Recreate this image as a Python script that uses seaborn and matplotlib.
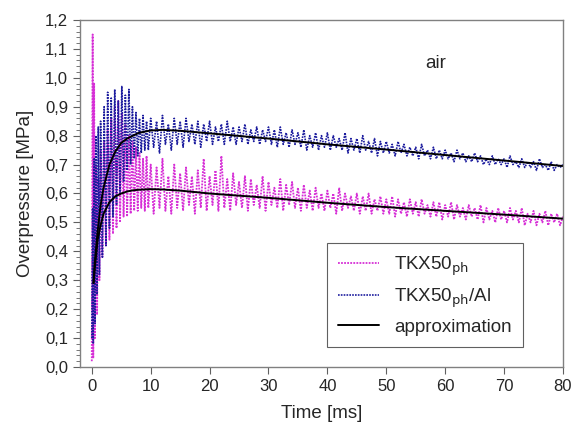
import numpy as np
import pandas as pd
import matplotlib
matplotlib.use("Agg")
import matplotlib.pyplot as plt
from matplotlib.ticker import FuncFormatter, MultipleLocator
import seaborn as sns

# early part of the records (0 - 9.6 ms)
t_early = [0.0, 0.15, 0.25, 0.4, 0.55, 0.7, 0.9, 1.1, 1.3, 1.5,
           1.8, 2.1, 2.4, 2.7, 3.0, 3.3, 3.6, 3.9, 4.2, 4.5,
           4.8, 5.1, 5.4, 5.7, 6.0, 6.3, 6.6, 6.9, 7.2, 7.5,
           7.8, 8.1, 8.4, 8.7, 9.0, 9.3, 9.6]
# later part sampled every 0.5 ms (10 - 80 ms)
t_late = list(np.arange(10.0, 80.01, 0.5))

ph_early = [0.02, 1.15, 0.03, 0.98, 0.10, 0.70, 0.18, 0.65, 0.30, 0.75,
            0.38, 0.78, 0.42, 0.82, 0.44, 0.86, 0.46, 0.90, 0.48, 0.92,
            0.50, 0.88, 0.52, 0.84, 0.52, 0.80, 0.53, 0.78, 0.54, 0.76,
            0.54, 0.74, 0.55, 0.72, 0.54, 0.73, 0.55]
ph_late = [0.70, 0.53, 0.69, 0.55, 0.72, 0.54, 0.66, 0.53, 0.70, 0.55,
           0.67, 0.54, 0.69, 0.56, 0.66, 0.53, 0.68, 0.55, 0.72, 0.54,
           0.66, 0.56, 0.68, 0.54, 0.73, 0.55, 0.65, 0.54, 0.67, 0.56,
           0.64, 0.55, 0.66, 0.54, 0.65, 0.56, 0.63, 0.55, 0.66, 0.54,
           0.64, 0.56, 0.62, 0.55, 0.65, 0.54, 0.63, 0.56, 0.64, 0.55,
           0.62, 0.54, 0.63, 0.55, 0.61, 0.54, 0.62, 0.55, 0.60, 0.54,
           0.61, 0.55, 0.60, 0.53, 0.62, 0.54, 0.60, 0.55, 0.59, 0.54,
           0.60, 0.53, 0.59, 0.54, 0.60, 0.53, 0.58, 0.54, 0.59, 0.53,
           0.58, 0.53, 0.59, 0.52, 0.58, 0.53, 0.57, 0.52, 0.58, 0.53,
           0.57, 0.52, 0.58, 0.53, 0.56, 0.52, 0.57, 0.52, 0.57, 0.51,
           0.56, 0.52, 0.57, 0.51, 0.56, 0.52, 0.55, 0.51, 0.56, 0.52,
           0.55, 0.51, 0.56, 0.50, 0.55, 0.51, 0.54, 0.50, 0.55, 0.51,
           0.54, 0.50, 0.55, 0.51, 0.54, 0.50, 0.55, 0.49, 0.53, 0.50,
           0.54, 0.49, 0.53, 0.50, 0.54, 0.49, 0.53, 0.50, 0.53, 0.49,
           0.52]

al_early = [0.10, 0.55, 0.08, 0.72, 0.15, 0.80, 0.25, 0.83, 0.32, 0.85,
            0.38, 0.90, 0.42, 0.95, 0.48, 0.93, 0.52, 0.96, 0.56, 0.92,
            0.60, 0.97, 0.64, 0.94, 0.68, 0.96, 0.70, 0.90, 0.72, 0.88,
            0.73, 0.86, 0.74, 0.87, 0.75, 0.85, 0.75]
al_late = [0.86, 0.76, 0.85, 0.74, 0.87, 0.77, 0.84, 0.75, 0.86, 0.77,
           0.85, 0.76, 0.86, 0.78, 0.84, 0.77, 0.85, 0.76, 0.84, 0.78,
           0.85, 0.77, 0.83, 0.78, 0.84, 0.77, 0.85, 0.78, 0.83, 0.77,
           0.83, 0.78, 0.84, 0.77, 0.82, 0.78, 0.83, 0.77, 0.82, 0.78,
           0.83, 0.77, 0.82, 0.76, 0.83, 0.77, 0.81, 0.76, 0.82, 0.77,
           0.81, 0.76, 0.82, 0.75, 0.80, 0.76, 0.81, 0.75, 0.80, 0.76,
           0.81, 0.75, 0.80, 0.76, 0.79, 0.75, 0.81, 0.74, 0.79, 0.75,
           0.79, 0.74, 0.80, 0.75, 0.78, 0.74, 0.79, 0.73, 0.78, 0.74,
           0.78, 0.74, 0.77, 0.73, 0.78, 0.74, 0.77, 0.73, 0.76, 0.73,
           0.76, 0.72, 0.77, 0.73, 0.75, 0.72, 0.76, 0.72, 0.75, 0.72,
           0.75, 0.72, 0.74, 0.71, 0.75, 0.72, 0.74, 0.71, 0.73, 0.71,
           0.74, 0.71, 0.73, 0.70, 0.72, 0.70, 0.73, 0.70, 0.72, 0.70,
           0.72, 0.69, 0.73, 0.70, 0.71, 0.69, 0.72, 0.69, 0.71, 0.69,
           0.71, 0.68, 0.72, 0.69, 0.70, 0.68, 0.71, 0.68, 0.70, 0.69,
           0.70]

# fitted approximation curves
t_fit = [0.3, 0.5, 1, 1.5, 2, 3, 4, 5, 6, 7, 8, 10, 12, 15, 20, 30, 40, 50, 60, 70, 80]
fit_al = [0.29, 0.36, 0.47, 0.56, 0.62, 0.70, 0.745, 0.775, 0.79, 0.80, 0.81,
          0.818, 0.82, 0.817, 0.808, 0.79, 0.77, 0.752, 0.733, 0.714, 0.695]
fit_ph = [0.29, 0.34, 0.44, 0.49, 0.53, 0.57, 0.59, 0.60, 0.607, 0.611, 0.613,
          0.615, 0.614, 0.61, 0.60, 0.585, 0.568, 0.553, 0.54, 0.527, 0.513]

t_all = t_early + t_late
ph = pd.DataFrame({'t': t_all, 'p': ph_early + ph_late})
al = pd.DataFrame({'t': t_all, 'p': al_early + al_late})

sns.set_style("ticks")
plt.rcParams['font.family'] = ['Liberation Sans', 'DejaVu Sans']

fig = plt.figure(figsize=(5.71, 4.34), dpi=100)
ax = fig.add_axes([80/571, 67/434, 483/571, 347/434])

sns.lineplot(data=ph, x='t', y='p', ax=ax, estimator=None, sort=False,
             color='#d62fd6', linestyle=(0, (1, 0.7)), linewidth=1.3,
             label='TKX50$_{\\mathrm{ph}}$')
sns.lineplot(data=al, x='t', y='p', ax=ax, estimator=None, sort=False,
             color='#1c1c9e', linestyle=(0, (1, 0.7)), linewidth=1.2,
             label='TKX50$_{\\mathrm{ph}}$/Al')
sns.lineplot(x=t_fit, y=fit_al, ax=ax, estimator=None, color='black', linewidth=1.4,
             label='approximation')
sns.lineplot(x=t_fit, y=fit_ph, ax=ax, estimator=None, color='black', linewidth=1.4)

ax.set_xlim(-2, 80)
ax.set_ylim(0, 1.2)
ax.xaxis.set_major_locator(MultipleLocator(10))
ax.yaxis.set_major_locator(MultipleLocator(0.1))
ax.yaxis.set_minor_locator(MultipleLocator(0.02))
ax.yaxis.set_major_formatter(FuncFormatter(lambda v, p: f'{v:.1f}'.replace('.', ',')))
ax.tick_params(axis='both', which='major', labelsize=12, length=5, color='#606060')
ax.tick_params(axis='y', which='minor', length=3, color='#606060')
for s in ax.spines.values():
    s.set_color('#808080')
    s.set_linewidth(1.0)

ax.set_xlabel('Time [ms]', fontsize=13.5, labelpad=8)
ax.set_ylabel('Overpressure [MPa]', fontsize=13.5, labelpad=8)
ax.text(0.714, 0.862, 'air', transform=ax.transAxes, fontsize=13.5)

leg = ax.legend(loc='lower right', bbox_to_anchor=(0.917, 0.058), fontsize=13.5,
                fancybox=False, edgecolor='#606060', framealpha=1,
                handlelength=2.2, handletextpad=0.8, borderpad=0.6,
                labelspacing=0.45, borderaxespad=0)
leg.get_frame().set_linewidth(0.8)

fig.savefig('out.png', dpi=100)
